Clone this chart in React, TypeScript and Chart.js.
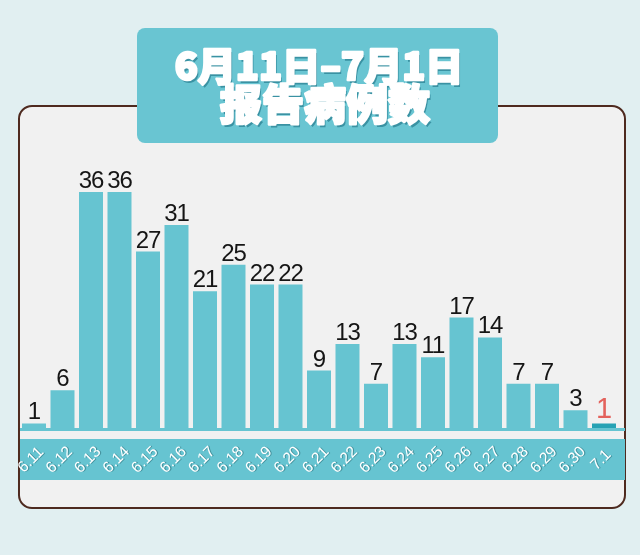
import { useEffect, useRef } from "react";
import { Chart, registerables } from "chart.js";

Chart.register(...registerables);

const categories = [
  "6.11", "6.12", "6.13", "6.14", "6.15", "6.16", "6.17", "6.18", "6.19", "6.20",
  "6.21", "6.22", "6.23", "6.24", "6.25", "6.26", "6.27", "6.28", "6.29", "6.30", "7.1",
];
const cases = [1, 6, 36, 36, 27, 31, 21, 25, 22, 22, 9, 13, 7, 13, 11, 17, 14, 7, 7, 3, 1];
const titleLines = ["6月11日–7月1日", "报告病例数"];

const BAR = "#66c4d1";
const BAR_LAST = "#27a2b4";
const BG = "#e1eff1";
const CARD = "#f1f1f1";
const BORDER = "#4e2a1f";

function roundRect(ctx: CanvasRenderingContext2D, x: number, y: number, w: number, h: number, r: number) {
  ctx.beginPath();
  ctx.moveTo(x + r, y);
  ctx.lineTo(x + w - r, y);
  ctx.arcTo(x + w, y, x + w, y + r, r);
  ctx.lineTo(x + w, y + h - r);
  ctx.arcTo(x + w, y + h, x + w - r, y + h, r);
  ctx.lineTo(x + r, y + h);
  ctx.arcTo(x, y + h, x, y + h - r, r);
  ctx.lineTo(x, y + r);
  ctx.arcTo(x, y, x + r, y, r);
  ctx.closePath();
}

const decorPlugin = {
  id: "decor",
  beforeDraw(chart: any) {
    const ctx: CanvasRenderingContext2D = chart.ctx;
    const { width, height } = chart;
    ctx.save();
    ctx.fillStyle = BG;
    ctx.fillRect(0, 0, width, height);
    // card
    roundRect(ctx, 19, 106, 606, 402, 13);
    ctx.fillStyle = CARD;
    ctx.fill();
    ctx.lineWidth = 2;
    ctx.strokeStyle = BORDER;
    ctx.stroke();
    // label band
    ctx.fillStyle = BAR;
    ctx.fillRect(20, 439, 605, 41);
    // title box
    roundRect(ctx, 137, 28, 361, 115, 8);
    ctx.fillStyle = "#69c5d2";
    ctx.fill();
    // title text
    ctx.textAlign = "center";
    ctx.textBaseline = "middle";
    const fonts = ["900 38px 'Noto Sans CJK SC'", "900 42px 'Noto Sans CJK SC'"];
    const ys = [66, 104];
    const xs = [319, 325];
    titleLines.forEach((t, i) => {
      ctx.font = fonts[i];
      ctx.fillStyle = "#3a92a3";
      ctx.fillText(t, xs[i] + 2, ys[i] + 3);
      ctx.lineWidth = 2.5;
      ctx.strokeStyle = "#ffffff";
      ctx.lineJoin = "round";
      ctx.strokeText(t, xs[i], ys[i]);
      ctx.fillStyle = "#ffffff";
      ctx.fillText(t, xs[i], ys[i]);
    });
    ctx.restore();
  },
  afterDatasetsDraw(chart: any) {
    const ctx: CanvasRenderingContext2D = chart.ctx;
    const meta = chart.getDatasetMeta(0);
    const xScale = chart.scales.x;
    ctx.save();
    // baseline strip
    ctx.fillStyle = BAR;
    ctx.fillRect(20, 428, 605, 3);
    // value labels
    ctx.textAlign = "center";
    ctx.textBaseline = "alphabetic";
    meta.data.forEach((bar: any, i: number) => {
      const last = i === cases.length - 1;
      ctx.font = last ? "29px 'Liberation Sans'" : "24px 'Liberation Sans'";
      (ctx as any).letterSpacing = last ? "0px" : "-1px";
      ctx.fillStyle = last ? "#e3625c" : "#151515";
      ctx.fillText(String(cases[i]), bar.x, bar.y - (last ? 5 : 4));
    });
    (ctx as any).letterSpacing = "0px";
    // category labels
    ctx.font = "15.5px 'Liberation Sans'";
    ctx.textAlign = "center";
    ctx.textBaseline = "middle";
    categories.forEach((c, i) => {
      const x = xScale.getPixelForValue(i) - 3;
      ctx.save();
      ctx.translate(x, 460);
      ctx.rotate(-Math.PI / 4);
      ctx.fillStyle = "rgba(30,90,100,0.45)";
      ctx.fillText(c, 0.8, 1);
      ctx.fillStyle = "#ffffff";
      ctx.fillText(c, 0, 0);
      ctx.restore();
    });
    ctx.restore();
  },
};

export default function App() {
  const ref = useRef<HTMLCanvasElement | null>(null);
  useEffect(() => {
    if (!ref.current) return;
    const chart = new Chart(ref.current, {
      type: "bar",
      data: {
        labels: categories,
        datasets: [
          {
            data: cases,
            backgroundColor: cases.map((_, i) => (i === cases.length - 1 ? BAR_LAST : BAR)),
            borderWidth: 0,
            categoryPercentage: 1,
            barPercentage: 0.842,
          },
        ],
      },
      options: {
        responsive: false,
        animation: false,
        layout: { padding: { left: 19.75, right: 21.75, top: 192, bottom: 125 } },
        scales: {
          x: { display: false },
          y: { display: false, min: 0, max: 36 },
        },
        plugins: {
          legend: { display: false },
          tooltip: { enabled: false },
          title: { display: false },
        },
      },
      plugins: [decorPlugin],
    });
    return () => chart.destroy();
  }, []);
  return (
    <div style={{ position: "absolute", left: 0, top: 0, width: 640, height: 555 }}>
      <canvas ref={ref} width={640} height={555} style={{ display: "block" }} />
    </div>
  );
}
